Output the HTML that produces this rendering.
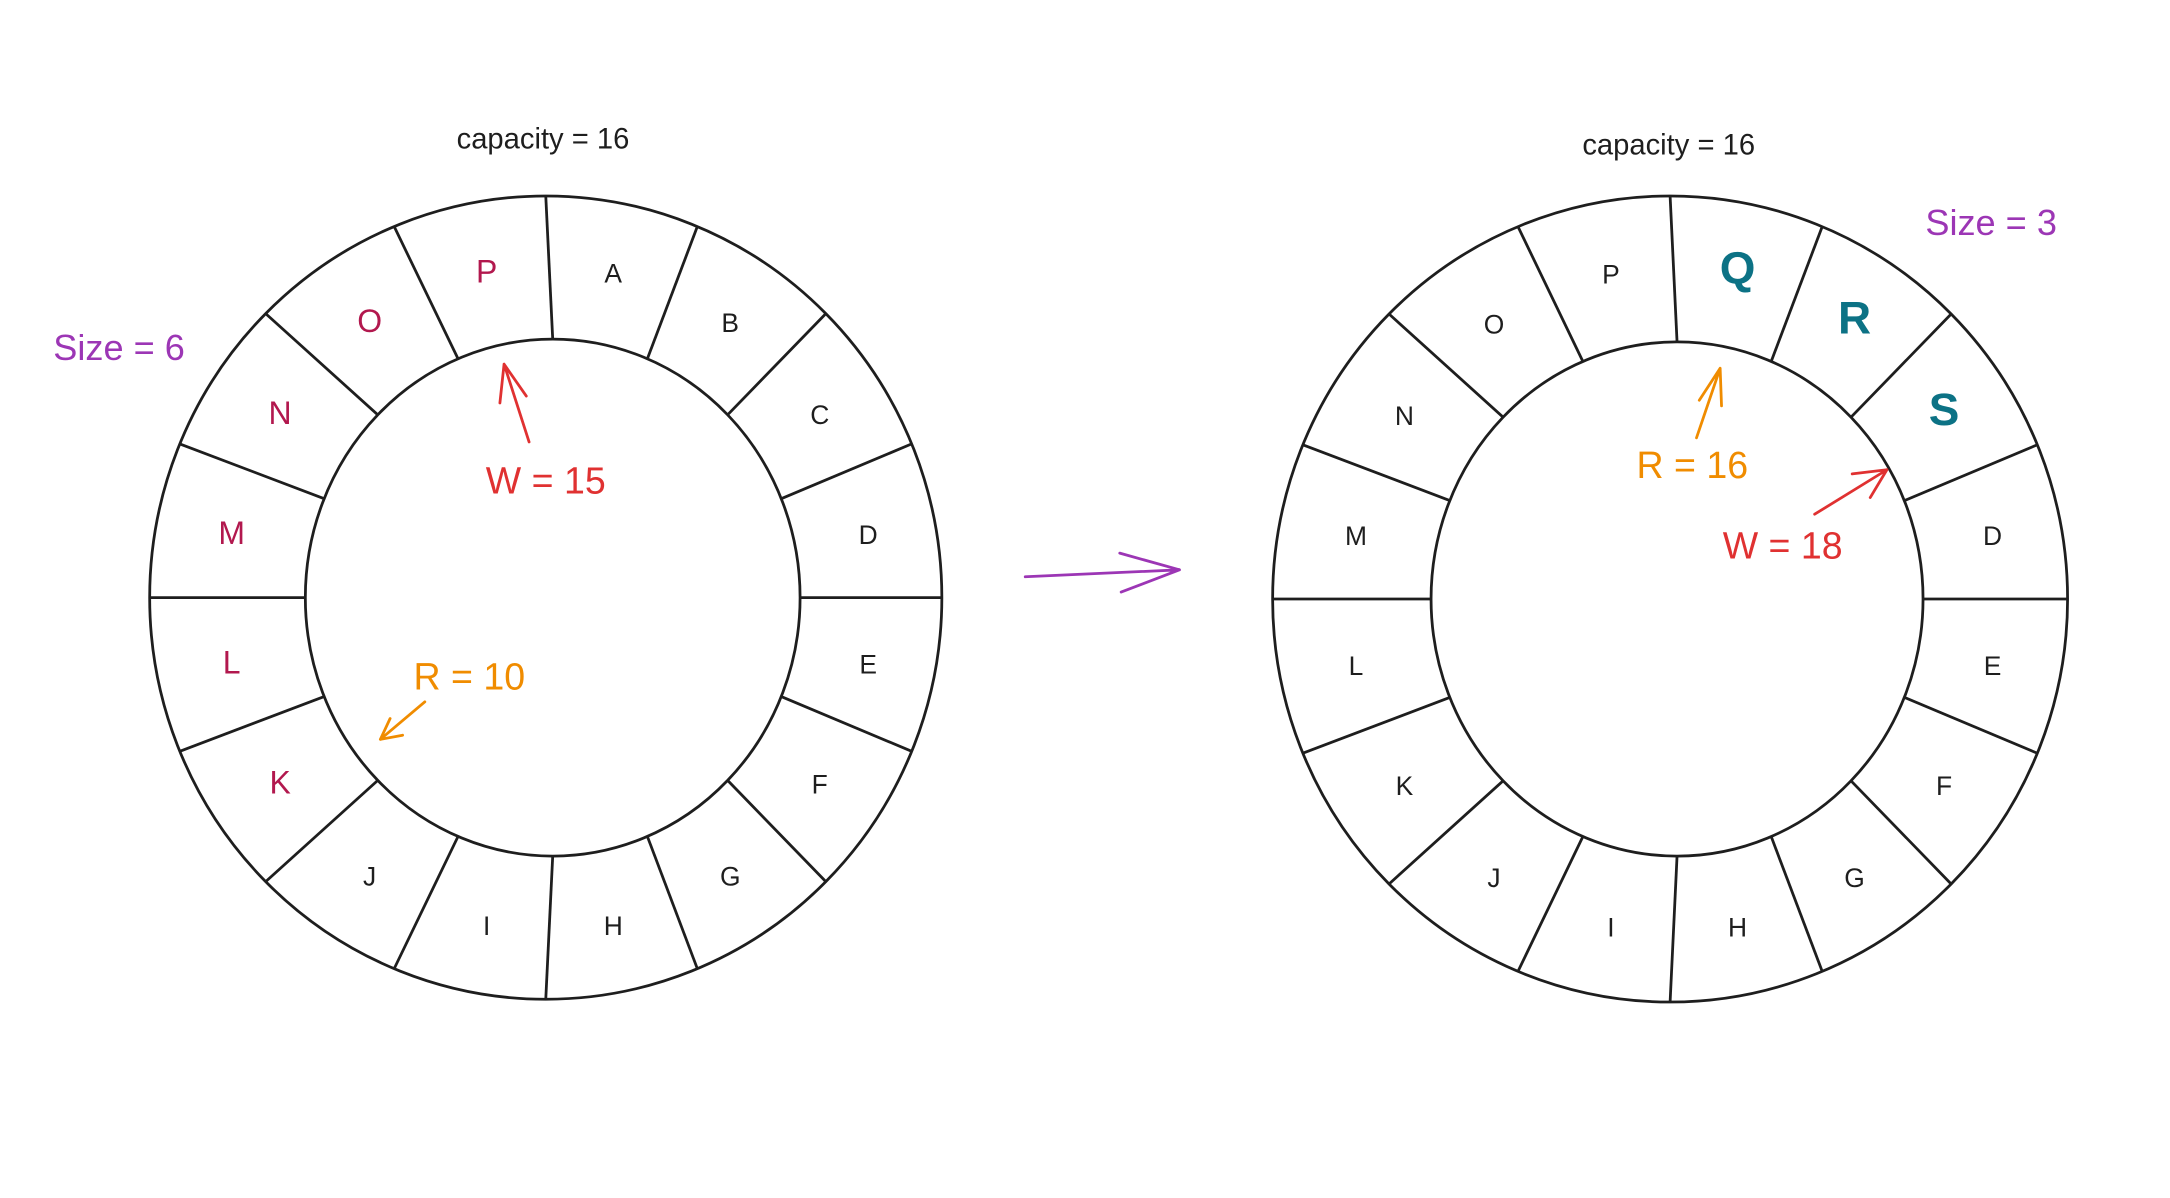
<!DOCTYPE html>
<html><head><meta charset="utf-8"><style>
html,body{margin:0;padding:0;background:#fff;}
svg{display:block;}
text{font-family:"Liberation Sans",sans-serif;}
</style></head><body>
<svg id="svg" width="2170" height="1198" viewBox="0 0 1560 862" xmlns="http://www.w3.org/2000/svg">
<rect width="1560" height="862" fill="#fff"/>
<g id="left"></g>
<g id="right"></g>
<text x="390" y="107" font-size="21" text-anchor="middle" fill="#1e1e1e">capacity = 16</text>
<text x="1200" y="111" font-size="21" text-anchor="middle" fill="#1e1e1e">capacity = 16</text>
<text x="85" y="259" font-size="26" text-anchor="middle" fill="#9c36b5">Size = 6</text>
<text x="1432" y="169" font-size="26" text-anchor="middle" fill="#9c36b5">Size = 3</text>
<text x="392" y="355" font-size="27" text-anchor="middle" fill="#e03131">W = 15</text>
<text x="337" y="496" font-size="27" text-anchor="middle" fill="#f08c00">R = 10</text>
<text x="1217" y="344" font-size="27" text-anchor="middle" fill="#f08c00">R = 16</text>
<text x="1282" y="402" font-size="27" text-anchor="middle" fill="#e03131">W = 18</text>
<g fill="none" stroke-width="2" stroke-linecap="round">
<path d="M380 318 L362 262 M362 262 L359 290 M362 262 L378 285" stroke="#e03131"/>
<path d="M305 505 L273 532 M273 532 L289 529 M273 532 L280 517" stroke="#f08c00"/>
<path d="M1220 315 L1237 265 M1237 265 L1222 288 M1237 265 L1238 292" stroke="#f08c00"/>
<path d="M1305 370 L1357 338 M1357 338 L1332 341 M1357 338 L1345 358" stroke="#e03131"/>
<path d="M737 415 L848 410 M848 410 L805 398 M848 410 L806 426" stroke="#9c36b5"/>
</g>
</svg>
<script>
const lettersLeft=["A","B","C","D","E","F","G","H","I","J","K","L","M","N","O","P"];
const highlightLeft=["K","L","M","N","O","P"];
const lettersRight=["Q","R","S","D","E","F","G","H","I","J","K","L","M","N","O","P"];
const highlightRight=["Q","R","S"];
const NS="http://www.w3.org/2000/svg";
function ring(gid,cx,cy,ro,ri,letters,hi,hiColor,hiSize,hiBold){
  const g=document.getElementById(gid);
  const o=document.createElementNS(NS,"ellipse");
  o.setAttribute("cx",cx);o.setAttribute("cy",cy);o.setAttribute("rx",ro);o.setAttribute("ry",ro+4);
  o.setAttribute("fill","none");o.setAttribute("stroke","#1e1e1e");o.setAttribute("stroke-width","2");
  
  
  g.appendChild(o);
  const i=document.createElementNS(NS,"ellipse");
  i.setAttribute("cx",cx+5);i.setAttribute("cy",cy);i.setAttribute("rx",ri);i.setAttribute("ry",ri+8);
  i.setAttribute("fill","none");i.setAttribute("stroke","#1e1e1e");i.setAttribute("stroke-width","2");
  
  
  g.appendChild(i);
  const n=letters.length;
  for(let k=0;k<n;k++){
    const a=(k*360/n-90)*Math.PI/180;
    const l=document.createElementNS(NS,"line");
    l.setAttribute("x1",cx+5+ri*Math.cos(a));l.setAttribute("y1",cy+(ri+8)*Math.sin(a));
    l.setAttribute("x2",cx+ro*Math.cos(a));l.setAttribute("y2",cy+(ro+4)*Math.sin(a));
    l.setAttribute("stroke","#1e1e1e");l.setAttribute("stroke-width","2");
    
    
    g.appendChild(l);
    const m=((k+0.5)*360/n-90)*Math.PI/180;
    const r=(ro+ri)/2+2;
    const t=document.createElementNS(NS,"text");
    const isHi=hi.includes(letters[k]);
    t.setAttribute("x",cx+3+r*Math.cos(m));t.setAttribute("y",cy+(r+6)*Math.sin(m)+8);
    t.setAttribute("text-anchor","middle");
    t.setAttribute("font-size",isHi?hiSize:19);
    t.setAttribute("fill",isHi?hiColor:"#1e1e1e");
    if(isHi&&hiBold)t.setAttribute("font-weight","bold");
    t.textContent=letters[k];
    
    
    g.appendChild(t);
  }
}
ring("left",392,430,285,178,lettersLeft,highlightLeft,"#b2184e",23,false);
ring("right",1201,431,286,177,lettersRight,highlightRight,"#0c7285",33,true);
</script>
</body></html>
